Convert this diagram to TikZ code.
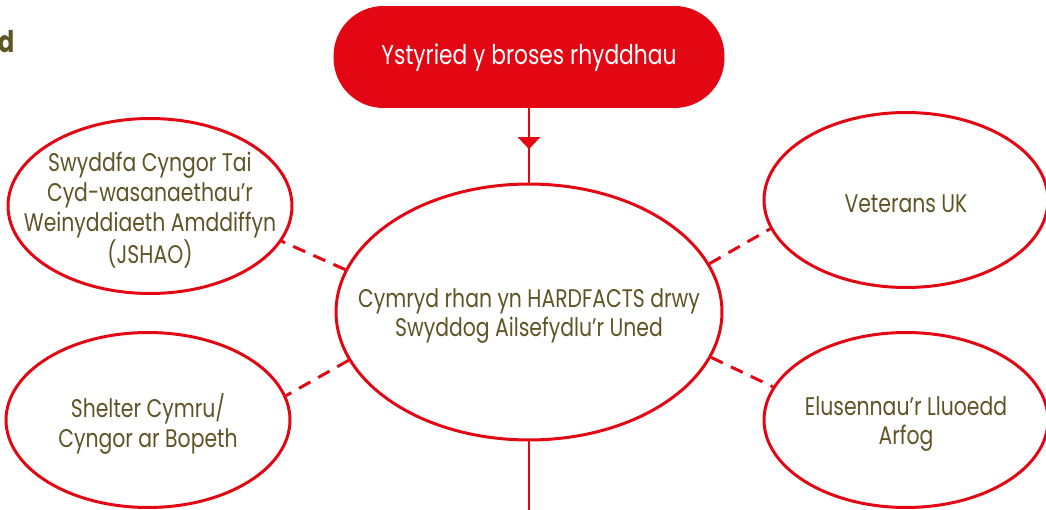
\documentclass[tikz,border=0pt]{standalone}
\usepackage{fontspec}
\setmainfont{Poppins}[FakeStretch=0.8]
\usepackage{tikz}
\usetikzlibrary{shapes.geometric, arrows.meta, decorations.markings}

\definecolor{hfred}{HTML}{E30613}
\definecolor{hfolive}{HTML}{5E5426}

\begin{document}
\begin{tikzpicture}[x=0.02cm, y=-0.02cm,
    bubble/.style={draw=hfred, line width=1.7pt, ellipse, minimum width=5.68cm, minimum height=3.5cm, inner sep=0pt},
    bubbletext/.style={text=hfolive, align=center, yshift=-0.08cm, font=\fontsize{14.5}{17}\selectfont},
    link/.style={draw=hfred, line width=1.7pt, dash pattern=on 7.4pt off 5.1pt}]
    \useasboundingbox (0,0) rectangle (1046,510);

    % Nodes
    \node[anchor=base east, inner sep=0pt, text=hfolive, font=\bfseries\fontsize{17}{18}\selectfont] (head) at (15,53) {d};
    \node[fill=hfred, rounded corners=1cm, minimum width=7.82cm, minimum height=2.04cm, text=white, text depth=0.12cm, font=\fontsize{15.5}{17}\selectfont] (start) at (529,57) {Ystyried y broses rhyddhau};
    \node[bubble, minimum width=7.72cm, minimum height=5.12cm, label={[bubbletext]center:Cymryd rhan yn HARDFACTS drwy\\Swyddog Ailsefydlu’r Uned}] (hardfacts) at (529,312) {};
    \node[bubble, label={[bubbletext]center:Swyddfa Cyngor Tai\\Cyd-wasanaethau’r\\Weinyddiaeth Amddiffyn\\(JSHAO)}] (jshao) at (150,206) {};
    \node[bubble, label={[bubbletext]center:Shelter Cymru/\\Cyngor ar Bopeth}] (shelter) at (148,420) {};
    \node[bubble, label={[bubbletext]center:Veterans UK}] (veterans) at (906,200) {};
    \node[bubble, label={[bubbletext]center:Elusennau’r Lluoedd\\Arfog}] (charities) at (906,420) {};
    \coordinate (bottom) at (529,510);

    % Arrows
    \draw[hfred, line width=1.7pt, postaction={decorate}, decoration={markings, mark=at position 0.55 with {\arrow{Triangle[width=0.44cm,length=0.24cm]}}}] (start) -- (hardfacts);
    \draw[hfred, line width=1.7pt] (hardfacts) -- (bottom);
    \draw[link] (hardfacts.167) -- (jshao.-15);
    \draw[link] (hardfacts.195.6) -- (shelter.10.5);
    \draw[link] (hardfacts.15) -- (veterans.192.7);
    \draw[link] (hardfacts.-14) -- (charities.166.3);
\end{tikzpicture}
\end{document}
